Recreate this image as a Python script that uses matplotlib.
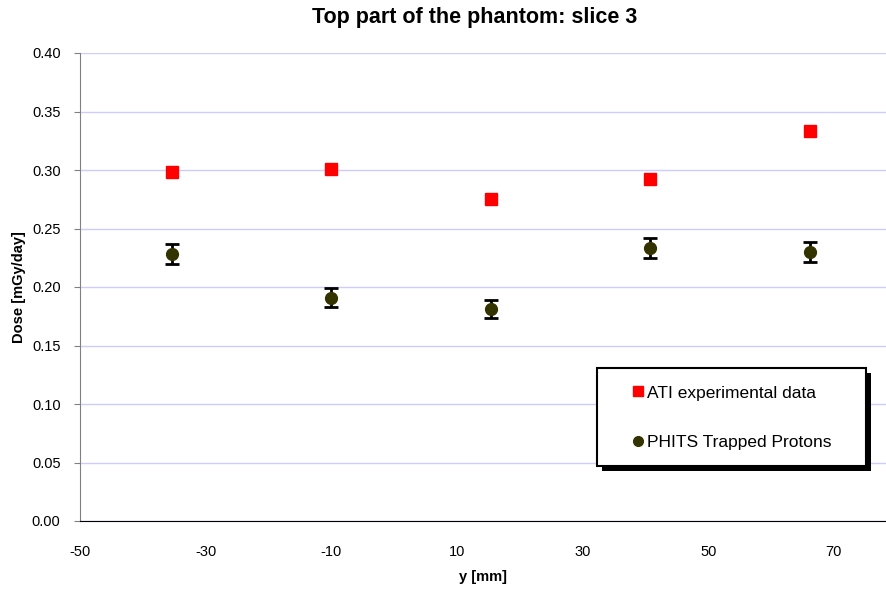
import matplotlib
matplotlib.use("Agg")
import matplotlib.pyplot as plt
from matplotlib.patches import Rectangle
from matplotlib.lines import Line2D

plt.rcParams['font.family'] = ['Liberation Sans', 'DejaVu Sans']
plt.rcParams['axes.unicode_minus'] = False

y_mm = [-35.4, -10.0, 15.4, 40.8, 66.2]
ati_dose = [0.298, 0.301, 0.275, 0.292, 0.333]
phits_dose = [0.228, 0.191, 0.181, 0.233, 0.230]
phits_err = [0.0085, 0.0080, 0.0075, 0.0085, 0.0085]
xticks = [-50, -30, -10, 10, 30, 50, 70]
yticks = [0.00, 0.05, 0.10, 0.15, 0.20, 0.25, 0.30, 0.35, 0.40]

fig = plt.figure(figsize=(8.87, 5.92), dpi=100)
ax = fig.add_axes([80/887, 1-521/592, 806/887, 468/592])

ax.set_xlim(-50, 78.3)
ax.set_ylim(0, 0.40)
ax.set_xticks(xticks)
ax.set_yticks(yticks)
ax.set_yticklabels([f"{v:.2f}" for v in yticks])
ax.grid(axis='y', color='#ccccff', linewidth=1)
ax.set_axisbelow(True)
for s in ['top', 'right']:
    ax.spines[s].set_visible(False)
ax.spines['left'].set_color('#808080')
ax.spines['bottom'].set_color('black')
ax.tick_params(axis='both', labelsize=10.5, direction='out')
ax.tick_params(axis='x', length=0, pad=17)
ax.tick_params(axis='y', color='#808080', length=4, pad=10)

ax.plot(y_mm, ati_dose, linestyle='none', marker='s', markersize=8,
        color='#ff0000', zorder=3)
ax.errorbar(y_mm, phits_dose, yerr=phits_err, linestyle='none', marker='o',
            markersize=8.5, color='#333300', ecolor='black', elinewidth=2,
            capsize=5, capthick=2, zorder=3)

fig.text(475/887, 1-17/592, 'Top part of the phantom: slice 3', fontsize=15.5,
         fontweight='bold', ha='center', va='center')
fig.text(483/887, 1-577/592, 'y [mm]', fontsize=10.5, fontweight='bold',
         ha='center', va='center')
fig.text(19/887, 1-287/592, 'Dose [mGy/day]', fontsize=10.5, fontweight='bold',
         ha='center', va='center', rotation=90)

handles = [Line2D([], [], linestyle='none', marker='s', markersize=7, color='#ff0000'),
           Line2D([], [], linestyle='none', marker='o', markersize=7, color='#333300')]
labels = ['ATI experimental data', 'PHITS Trapped Protons']

bx0, by0, bw, bh = 517/806, (521-466)/468, 269/806, 98/468
shadow = Rectangle((bx0 + 5/806, by0 - 5/468), bw, bh, transform=ax.transAxes,
                   facecolor='black', edgecolor='none', zorder=4, clip_on=False)
ax.add_patch(shadow)
box = Rectangle((bx0, by0), bw, bh, transform=ax.transAxes, facecolor='white',
                edgecolor='black', linewidth=1.5, zorder=4.5, clip_on=False)
ax.add_patch(box)
leg = ax.legend(handles, labels, loc='center left',
                bbox_to_anchor=((633-80)/806, (521-417.5)/468),
                fontsize=12.5, frameon=False, handlelength=0.6,
                handletextpad=0.2, labelspacing=1.95, borderaxespad=0, borderpad=0)
leg.set_zorder(5)

fig.savefig('out.png', dpi=100)
